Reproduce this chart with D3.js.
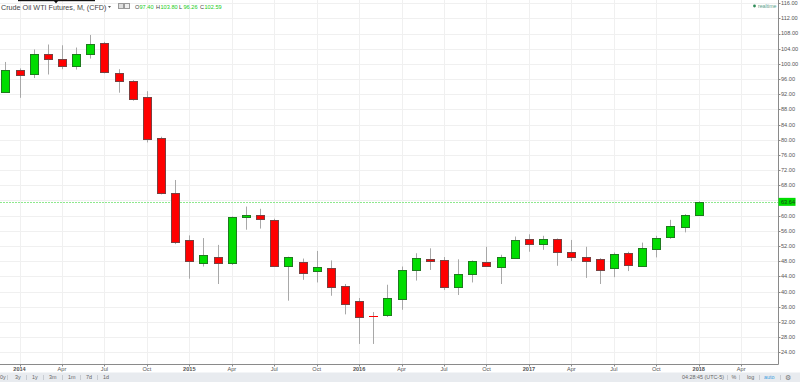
<!DOCTYPE html>
<html><head><meta charset="utf-8">
<script src="https://cdn.jsdelivr.net/npm/d3@7"></script>
<style>
html,body{margin:0;padding:0;background:#fff;overflow:hidden;}
text{font-family:"Liberation Sans",Arial,sans-serif;}
</style></head>
<body>
<svg id="c" width="800" height="382"></svg>
<script>
// Monthly candles, Dec 2013 .. Jan 2018
const months = ["2013-12","2014-01","2014-02","2014-03","2014-04","2014-05","2014-06","2014-07","2014-08","2014-09","2014-10","2014-11","2014-12",
"2015-01","2015-02","2015-03","2015-04","2015-05","2015-06","2015-07","2015-08","2015-09","2015-10","2015-11","2015-12",
"2016-01","2016-02","2016-03","2016-04","2016-05","2016-06","2016-07","2016-08","2016-09","2016-10","2016-11","2016-12",
"2017-01","2017-02","2017-03","2017-04","2017-05","2017-06","2017-07","2017-08","2017-09","2017-10","2017-11","2017-12","2018-01"];
const open  = [92.5,98.3,97.40,102.6,101.3,99.5,102.6,105.4,97.5,95.6,91.2,80.4,65.9,
53.6,47.5,49.2,47.5,59.6,60.1,58.9,46.7,47.8,45.3,46.2,41.5,
37.5,33.6,33.7,38.0,45.6,48.6,48.2,41.2,44.7,47.9,46.6,48.8,
53.9,52.6,53.8,50.5,49.1,48.5,46.1,50.1,46.8,51.3,54.3,57.1,60.1];
const high  = [100.5,98.8,103.80,105.1,104.9,104.3,107.6,105.8,98.6,95.7,92.8,80.8,69.4,
54.8,54.1,52.3,59.8,62.4,61.8,59.2,49.2,48.7,50.7,48.2,42.0,
38.3,34.6,41.8,46.6,50.1,51.4,49.1,48.5,48.2,51.8,49.7,54.5,
55.1,54.7,54.0,53.6,51.8,48.8,50.3,50.5,52.9,54.7,58.9,60.4,63.8];
const low   = [92.4,91.05,96.26,97.2,98.6,98.5,101.4,97.5,92.4,90.3,79.3,65.6,52.5,
43.4,46.6,42.0,47.0,56.3,56.6,46.6,37.6,43.1,42.4,38.9,34.0,
26.2,26.2,33.3,35.2,42.9,45.7,40.4,39.1,42.4,46.6,42.0,48.8,
50.5,51.0,46.8,48.0,43.6,42.0,43.8,45.4,46.5,49.0,53.9,55.6,60.1];
const close = [98.3,97.1,102.59,101.3,99.5,102.6,105.2,97.9,95.6,90.8,80.3,65.9,53.0,
48.1,49.7,47.5,59.6,60.1,59.2,46.8,49.1,44.8,46.5,41.3,36.8,
33.4,33.5,38.3,45.7,48.8,48.0,41.3,44.6,48.0,46.7,49.2,53.5,
52.6,53.8,50.4,49.1,48.1,45.8,49.9,47.0,51.4,54.1,57.3,60.2,63.64];
const lastPrice = 63.64;
const yTicks = [116,112,108,104,100,96,92,88,84,80,76,72,68,64,60,56,52,48,44,40,36,32,28,24];
const xTickIdx = [1,4,7,10,13,16,19,22,25,28,31,34,37,40,43,46,49,52];
const xTickLabels = ["2014","Apr","Jul","Oct","2015","Apr","Jul","Oct","2016","Apr","Jul","Oct","2017","Apr","Jul","Oct","2018","Apr"];
const leftTools = ["0y","3y","1y","3m","1m","7d","1d"];
const headerTitle = "Crude Oil WTI Futures, M, (CFD)";
const ohlcLabels = [["O","97.40"],["H","103.80"],["L","96.26"],["C","102.59"]];

const svg = d3.select("#c");
const plotR = 778.5, axisY = 364.5;
const x = d3.scaleLinear().domain([0, 49]).range([5.35, 698.75]);
const y = d3.scaleLinear().domain([24, 108]).range([352.3, 33.5]);

// grid
const g = svg.append("g");
g.selectAll("line.h").data(yTicks).join("line")
  .attr("x1",0).attr("x2",plotR).attr("y1",d=>Math.round(y(d))+0.5).attr("y2",d=>Math.round(y(d))+0.5)
  .attr("stroke","#f0f0f0");
g.selectAll("line.v").data(xTickIdx).join("line")
  .attr("x1",d=>Math.round(x(d))+0.5).attr("x2",d=>Math.round(x(d))+0.5).attr("y1",0).attr("y2",axisY)
  .attr("stroke","#f0f0f0");

// current price line
svg.append("line").attr("x1",0).attr("x2",plotR).attr("y1",Math.round(y(lastPrice))+0.5).attr("y2",Math.round(y(lastPrice))+0.5)
  .attr("stroke","#8ee88e").attr("stroke-dasharray","2,1");

// candles
const data = months.map((m,i)=>({i,o:open[i],h:high[i],l:low[i],c:close[i]}));
const bodyTop = d=>Math.round(y(Math.max(d.o,d.c)));
const bodyBot = d=>Math.round(y(Math.min(d.o,d.c)));
const isTiny = d=>bodyBot(d)-bodyTop(d) < 2;
const cg = svg.append("g");
cg.selectAll("line.w").data(data).join("line")
  .attr("x1",d=>Math.round(x(d.i))+0.5).attr("x2",d=>Math.round(x(d.i))+0.5)
  .attr("y1",d=>y(d.h)).attr("y2",d=>y(d.l)).attr("stroke","#a8a8a8");
cg.selectAll("rect").data(data).join("rect")
  .attr("x",d=>isTiny(d)?Math.round(x(d.i))-4:Math.round(x(d.i))-4+0.5)
  .attr("width",d=>isTiny(d)?9:8)
  .attr("y",d=>isTiny(d)?bodyTop(d):bodyTop(d)+0.5)
  .attr("height",d=>isTiny(d)?1:bodyBot(d)-bodyTop(d))
  .attr("fill",d=>d.c>=d.o?"#00dd00":"#ff0000")
  .attr("stroke",d=>isTiny(d)?"none":(d.c>=d.o?"#1f7a1f":"#7a4040"));

// axes lines
svg.append("line").attr("x1",plotR).attr("x2",plotR).attr("y1",0).attr("y2",axisY).attr("stroke","#8a8a8a");
svg.append("line").attr("x1",0).attr("x2",plotR).attr("y1",axisY).attr("y2",axisY).attr("stroke","#8a8a8a");

// y tick labels
const yax = svg.append("g");
yax.selectAll("line").data(yTicks).join("line")
  .attr("x1",plotR).attr("x2",plotR+2).attr("y1",d=>Math.round(y(d))+0.5).attr("y2",d=>Math.round(y(d))+0.5).attr("stroke","#8a8a8a");
yax.selectAll("text").data(yTicks).join("text")
  .attr("x",781).attr("y",d=>y(d)).attr("dy","0.35em")
  .attr("font-size",5.6).attr("fill","#555").text(d=>d.toFixed(2));

// price label
svg.append("rect").attr("x",plotR).attr("y",y(lastPrice)-4).attr("width",17).attr("height",8).attr("fill","#00dd00");
svg.append("text").attr("x",781).attr("y",y(lastPrice)).attr("dy","0.35em").attr("font-size",5.6).attr("fill","#1a3a1a").text(lastPrice.toFixed(2));

// x tick labels
const xax = svg.append("g");
xax.selectAll("line").data(xTickIdx).join("line")
  .attr("x1",d=>Math.round(x(d))+0.5).attr("x2",d=>Math.round(x(d))+0.5).attr("y1",axisY).attr("y2",axisY+2).attr("stroke","#8a8a8a");
xax.selectAll("text").data(xTickIdx).join("text")
  .attr("x",d=>x(d)).attr("y",369.5).attr("dy","0.35em").attr("text-anchor","middle")
  .attr("font-size",5.6).attr("fill","#555")
  .attr("font-weight",(d,i)=>/^\d{4}$/.test(xTickLabels[i])?"bold":"normal")
  .text((d,i)=>xTickLabels[i]);

// bottom toolbar
svg.append("rect").attr("x",0).attr("y",372.5).attr("width",800).attr("height",10).attr("fill","#e8ebef");
const ltx = [0,15,32,49,68,86,103];
svg.append("g").selectAll("text").data(leftTools).join("text")
  .attr("x",(d,i)=>ltx[i]).attr("y",377.5).attr("dy","0.35em").attr("font-size",5.4).attr("fill","#666").text(d=>d);
const seps = [7,26,43,62,80,97,727,739,759,780];
svg.append("g").selectAll("line").data(seps).join("line")
  .attr("x1",d=>d+0.5).attr("x2",d=>d+0.5).attr("y1",375).attr("y2",380).attr("stroke","#c8ccd2");
const rightTools = [["04:28:45 (UTC-5)",682,"#666"],["%",731.5,"#666"],["log",747,"#666"],["auto",764,"#3ba0e0"]];
svg.append("g").selectAll("text").data(rightTools).join("text")
  .attr("x",d=>d[1]).attr("y",377.5).attr("dy","0.35em").attr("font-size",5.4).attr("fill",d=>d[2]).text(d=>d[0]);
svg.append("text").attr("x",788).attr("y",377.5).attr("dy","0.35em").attr("text-anchor","middle").attr("font-size",7).attr("fill","#777").text("⚙");

// header
svg.append("rect").attr("x",18).attr("y",0).attr("width",77).attr("height",1.2).attr("fill","#111");
svg.append("path").attr("d","M54,1 L58,1 L56,3.5 Z").attr("fill","#111");
svg.append("text").attr("x",1).attr("y",7).attr("dy","0.35em").attr("font-size",7.2).attr("fill","#444").text(headerTitle);
svg.append("path").attr("d","M108,6 L111,6 L109.5,8 Z").attr("fill","#555");
svg.append("rect").attr("x",118.5).attr("y",3.5).attr("width",5).attr("height",5).attr("fill","#ddd").attr("stroke","#999");
svg.append("rect").attr("x",124.5).attr("y",3.5).attr("width",5).attr("height",5).attr("fill","#eee").attr("stroke","#999");
const ohlcX = [135,156,179,200];
const hg = svg.append("g");
ohlcLabels.forEach((p,i)=>{
  hg.append("text").attr("x",ohlcX[i]).attr("y",7).attr("dy","0.35em").attr("font-size",5.6).attr("fill","#444").text(p[0]);
  hg.append("text").attr("x",ohlcX[i]+4.5).attr("y",7).attr("dy","0.35em").attr("font-size",5.6).attr("fill","#22cc22").text(p[1]);
});

// realtime
svg.append("circle").attr("cx",754.5).attr("cy",6).attr("r",1.4).attr("fill","#2e8b57");
svg.append("text").attr("x",758).attr("y",6).attr("dy","0.35em").attr("font-size",5.2).attr("fill","#5aa08a").text("realtime");
</script>
</body></html>
